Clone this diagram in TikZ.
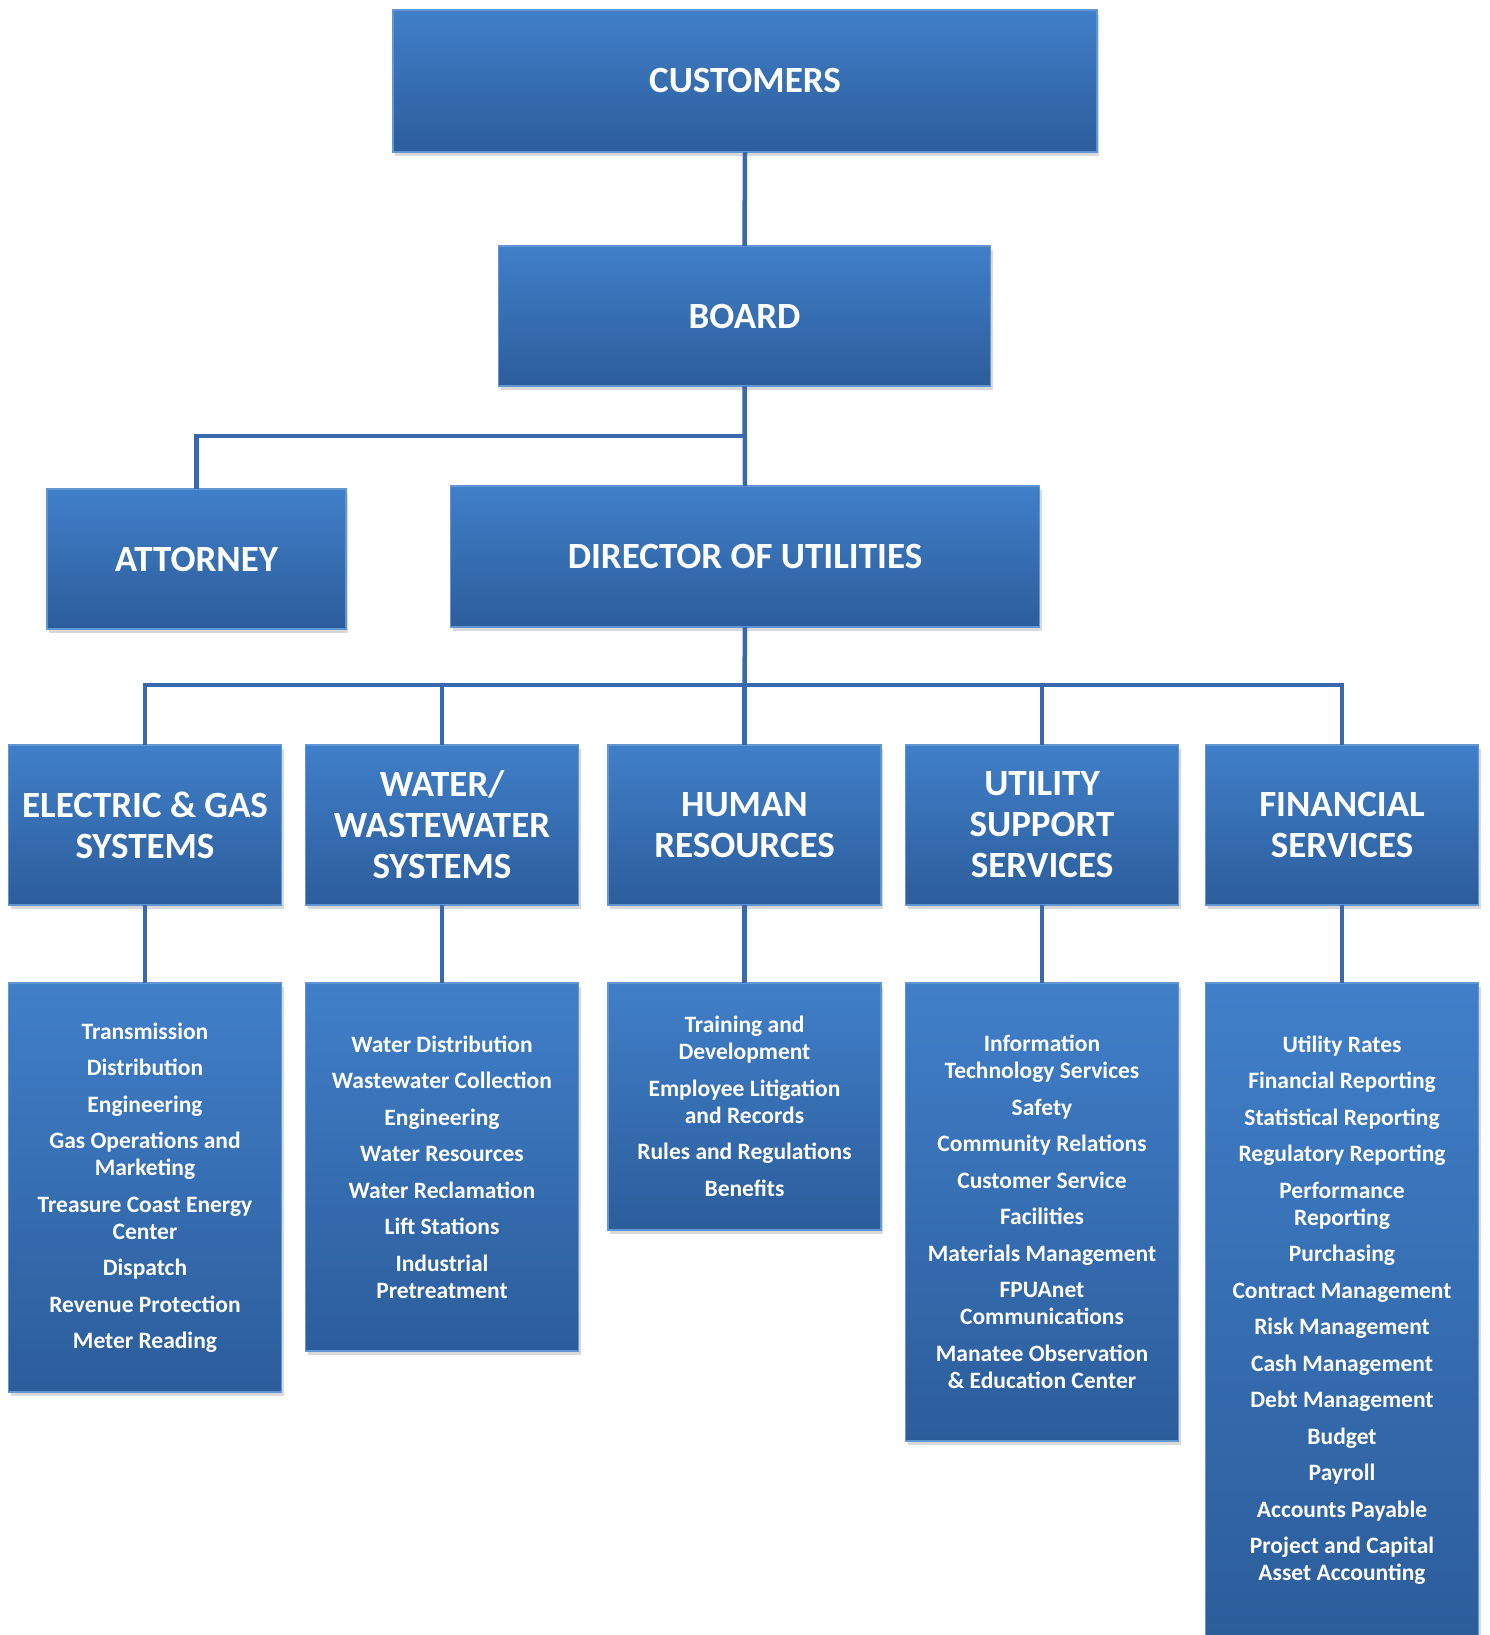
\documentclass[tikz,border=0pt]{standalone}
\usepackage{fontspec}
\setmainfont{Carlito}
\usetikzlibrary{shadows}

\definecolor{boxtop}{RGB}{64,127,201}
\definecolor{boxbot}{RGB}{44,93,155}
\definecolor{boxedge}{RGB}{96,150,212}
\definecolor{linkblue}{RGB}{56,105,172}

\begin{document}
\begin{tikzpicture}[
    x=1pt, y=-1pt,
    unitbox/.style={
        rectangle,
        inner sep=0pt,
        outer sep=0pt,
        top color=boxtop,
        bottom color=boxbot,
        draw=boxedge,
        line width=1.2pt,
        drop shadow={shadow xshift=2pt, shadow yshift=-4pt, opacity=0.3},
        text=white,
        align=center,
        font=\bfseries\fontsize{37}{41}\selectfont
    },
    dept/.style={
        unitbox,
        minimum width=273,
        minimum height=160
    },
    duties/.style={
        unitbox,
        minimum width=273,
        font=\bfseries\fontsize{23.5}{27}\selectfont
    },
    link/.style={draw=linkblue, line width=4.5pt}
]
\useasboundingbox (0,0) rectangle (1489,1635);

% --- Top of the chart ---
\node[unitbox, minimum width=704, minimum height=142] (customers) at (745,81) {CUSTOMERS};
\node[unitbox, minimum width=492, minimum height=140] (board) at (744.5,316) {BOARD};
\node[unitbox, minimum width=299, minimum height=140] (attorney) at (196.5,559) {ATTORNEY};
\node[unitbox, minimum width=589, minimum height=141] (director) at (745,556.5) {DIRECTOR OF UTILITIES};

% --- Departments ---
\node[dept] (elec) at (145,825)  {ELECTRIC \& GAS\\SYSTEMS};
\node[dept] (water) at (442,825) {WATER/\\WASTEWATER\\SYSTEMS};
\node[dept] (hr) at (744.5,825)  {HUMAN\\RESOURCES};
\node[dept] (uss) at (1042,825)  {UTILITY\\SUPPORT\\SERVICES};
\node[dept] (fin) at (1342,825)  {FINANCIAL\\SERVICES};

% --- Duties of each department ---
\node[duties, minimum height=409] (elecbody) at (145,1187.5) {%
    Transmission\\[9.5pt]
    Distribution\\[9.5pt]
    Engineering\\[9.5pt]
    Gas Operations and\\Marketing\\[9.5pt]
    Treasure Coast Energy\\Center\\[9.5pt]
    Dispatch\\[9.5pt]
    Revenue Protection\\[9.5pt]
    Meter Reading};
\node[duties, minimum height=368] (waterbody) at (442,1167) {%
    Water Distribution\\[9.5pt]
    Wastewater Collection\\[9.5pt]
    Engineering\\[9.5pt]
    Water Resources\\[9.5pt]
    Water Reclamation\\[9.5pt]
    Lift Stations\\[9.5pt]
    Industrial\\Pretreatment};
\node[duties, minimum height=247] (hrbody) at (744.5,1106.5) {%
    Training and\\Development\\[9.5pt]
    Employee Litigation\\and Records\\[9.5pt]
    Rules and Regulations\\[9.5pt]
    Benefits};
\node[duties, minimum height=458] (ussbody) at (1042,1212) {%
    Information\\Technology Services\\[9.5pt]
    Safety\\[9.5pt]
    Community Relations\\[9.5pt]
    Customer Service\\[9.5pt]
    Facilities\\[9.5pt]
    Materials Management\\[9.5pt]
    FPUAnet\\Communications\\[9.5pt]
    Manatee Observation\\\& Education Center};
\node[duties, minimum height=654] (finbody) at (1342,1310) {%
    Utility Rates\\[9.5pt]
    Financial Reporting\\[9.5pt]
    Statistical Reporting\\[9.5pt]
    Regulatory Reporting\\[9.5pt]
    Performance\\Reporting\\[9.5pt]
    Purchasing\\[9.5pt]
    Contract Management\\[9.5pt]
    Risk Management\\[9.5pt]
    Cash Management\\[9.5pt]
    Debt Management\\[9.5pt]
    Budget\\[9.5pt]
    Payroll\\[9.5pt]
    Accounts Payable\\[9.5pt]
    Project and Capital\\Asset Accounting};

% --- Reporting lines ---
\coordinate (split) at (744.5,436);
\coordinate (bus) at (744.5,685);
\draw[link] (customers.south) -- (board.north);
\draw[link] (board.south) -- (director.north);
\draw[link] (attorney.north) |- (split);
\draw[link] (director.south) -- (bus);
\foreach \d in {elec,water,hr,uss,fin}{
    \draw[link] (bus) -| (\d.north);
    \draw[link] (\d.south) -- (\d body.north);
}

\end{tikzpicture}
\end{document}
